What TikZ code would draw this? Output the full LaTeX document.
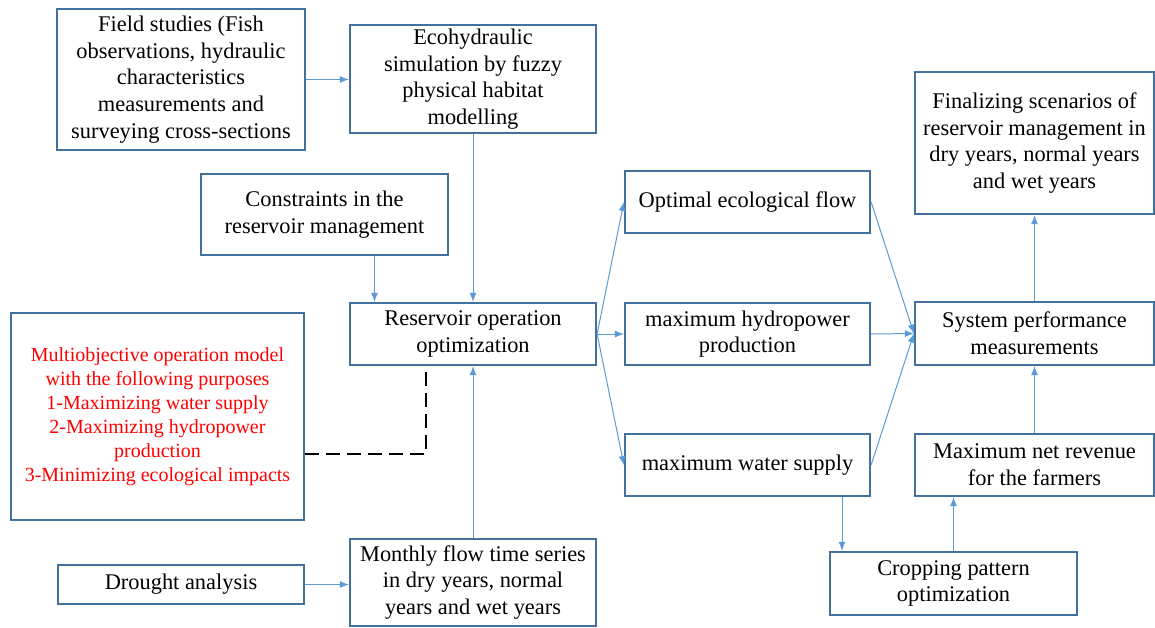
\documentclass[tikz,border=0pt]{standalone}
\usepackage{fontspec}
\setmainfont{Liberation Serif}
\usetikzlibrary{arrows.meta}
\definecolor{boxc}{HTML}{41719C}
\definecolor{arrc}{HTML}{5B9BD5}
\definecolor{redt}{HTML}{FF0000}
\tikzset{
  bx/.style 2 args={draw=boxc, line width=1.1pt, rectangle, inner sep=0pt, align=center,
    minimum width={#1*0.5pt}, minimum height={#2*0.5pt},
    font=\fontsize{11.2}{13.35}\selectfont},
  arr/.style={draw=arrc, line width=0.5pt, -{Latex[length=4.5pt,width=3.5pt]}},
  dsh/.style={draw=black, line width=1.3pt, dash pattern=on 7pt off 3.5pt}
}
\begin{document}
\begin{tikzpicture}[x=0.5pt,y=-0.5pt]
\useasboundingbox (0,0) rectangle (1155,627);
\node[bx={248}{141}] (field) at (181,79.5) {Field studies (Fish\\observations, hydraulic\\characteristics\\measurements and\\surveying cross-sections};
\node[bx={246}{108}] (eco) at (473,79) {Ecohydraulic\\simulation by fuzzy\\physical habitat\\modelling};
\node[bx={247}{81}] (cons) at (324.5,214.5) {Constraints in the\\reservoir management};
\node[bx={246}{62}] (res) at (473,334) {Reservoir operation\\optimization};
\node[bx={293}{207}, text=redt, font=\fontsize{10}{12}\selectfont] (multi) at (157.5,416.5) {Multiobjective operation model\\with the following purposes\\1-Maximizing water supply\\2-Maximizing hydropower\\production\\3-Minimizing ecological impacts};
\node[bx={246}{39}] (drought) at (181,584.5) {Drought analysis};
\node[bx={246}{87}] (monthly) at (473,582.5) {Monthly flow time series\\in dry years, normal\\years and wet years};
\node[bx={245}{62}] (opt) at (747.5,202) {Optimal ecological flow};
\node[bx={245}{62}] (hydro) at (747.5,334) {maximum hydropower\\production};
\node[bx={245}{62}] (water) at (747.5,465) {maximum water supply};
\node[bx={239}{142}] (final) at (1034.5,143) {Finalizing scenarios of\\reservoir management in\\dry years, normal years\\and wet years};
\node[bx={239}{63}] (sys) at (1034.5,333.5) {System performance\\measurements};
\node[bx={239}{62}] (net) at (1034.5,465) {Maximum net revenue\\for the farmers};
\node[bx={247}{63}] (crop) at (953.5,583.5) {Cropping pattern\\optimization};

\draw[arr] (field.east) -- (field.east -| eco.west);
\draw[arr] (eco.south) -- (res.north);
\draw[arr] ([xshift=25pt]cons.south) -- ([xshift=25pt]cons.south |- res.north);
\draw[arr] (monthly.north) -- (res.south);
\draw[arr] (drought.east) -- (drought.east -| monthly.west);
\draw[arr] (res.east) -- (opt.west);
\draw[arr] (res.east) -- (hydro.west);
\draw[arr] (res.east) -- (water.west);
\draw[arr] (opt.east) -- (sys.west);
\draw[arr] (hydro.east) -- (sys.west);
\draw[arr] (water.east) -- (sys.west);
\draw[arr] (sys.north) -- (final.south);
\draw[arr] (net.north) -- (sys.south);
\draw[arr] ([xshift=47.25pt]water.south) -- ([xshift=47.25pt]water.south |- crop.north);
\draw[arr] (crop.north) -- (crop.north |- net.south);
\draw[dsh] ([yshift=-18.75pt]multi.east) -| ([xshift=-23.5pt]res.south);
\end{tikzpicture}
\end{document}
